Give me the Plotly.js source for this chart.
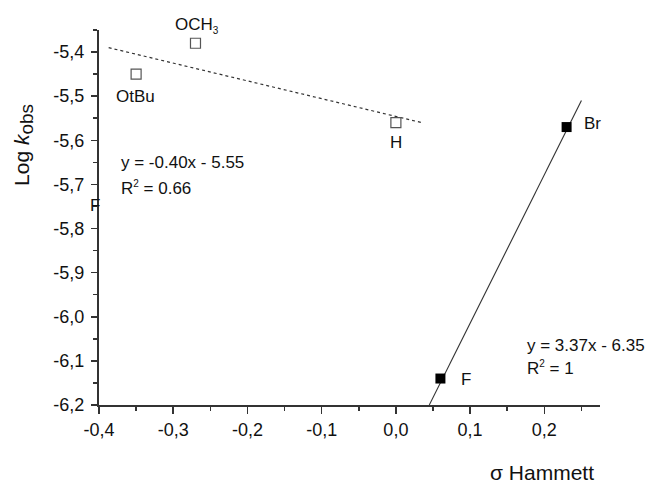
<!DOCTYPE html>
<html>
<head>
<meta charset="utf-8">
<script src="https://cdn.plot.ly/plotly-3.0.1.min.js"></script>
<style>html,body{margin:0;padding:0;background:#fff;}#chart{width:653px;height:487px;}</style>
</head>
<body>
<div id="chart"></div>
<script>
// Open squares: substituents with the dotted fit
const openLabels = ["OtBu", "OCH3", "H"];
const openX = [-0.35, -0.27, 0.0];
const openY = [-5.45, -5.38, -5.56];
// Filled squares: substituents with the solid fit
const filledLabels = ["F", "Br"];
const filledX = [0.06, 0.23];
const filledY = [-6.14, -5.57];
// Fit lines (end points)
const fit1X = [-0.387, 0.035];
const fit1Y = [-5.39, -5.56];
const fit2X = [0.045, 0.25];
const fit2Y = [-6.20, -5.51];
// Axis ticks
const xTickVals = [-0.4, -0.3, -0.2, -0.1, 0.0, 0.1, 0.2];
const xTickText = ["-0,4", "-0,3", "-0,2", "-0,1", "0,0", "0,1", "0,2"];
const yTickVals = [-6.2, -6.1, -6.0, -5.9, -5.8, -5.7, -5.6, -5.5, -5.4];
const yTickText = ["-6,2", "-6,1", "-6,0", "-5,9", "-5,8", "-5,7", "-5,6", "-5,5", "-5,4"];

const FONT = "Liberation Sans, Arial, sans-serif";

const traces = [
  {x: fit1X, y: fit1Y, mode: "lines", type: "scatter",
   line: {color: "#333", width: 1.2, dash: "dot"}, hoverinfo: "skip"},
  {x: fit2X, y: fit2Y, mode: "lines", type: "scatter",
   line: {color: "#333", width: 1.1}, hoverinfo: "skip"},
  {x: openX, y: openY, text: openLabels, mode: "markers", type: "scatter",
   marker: {symbol: "square-open", size: 10, color: "#555", line: {width: 1.2}}},
  {x: filledX, y: filledY, text: filledLabels, mode: "markers", type: "scatter",
   marker: {symbol: "square", size: 10, color: "#000"}}
];

const annFont = {family: FONT, size: 17, color: "#111"};
const annotations = [
  {xref: "paper", yref: "paper", x: 0.196, y: 1.013, text: "OCH<sub><span style='font-size:10px'>3</span></sub>", showarrow: false, xanchor: "center", yanchor: "middle", font: annFont},
  {x: -0.351, y: -5.501, text: "OtBu", showarrow: false, xanchor: "center", yanchor: "middle", font: annFont},
  {x: 0.0, y: -5.605, text: "H", showarrow: false, xanchor: "center", yanchor: "middle", font: annFont},
  {x: 0.251, y: -5.563, text: "Br", showarrow: false, xanchor: "left", yanchor: "middle", font: annFont},
  {x: 0.0845, y: -6.143, text: "F", showarrow: false, xanchor: "left", yanchor: "middle", font: annFont},
  {xref: "paper", yref: "paper", x: 0.0, y: 0.531, text: "F", showarrow: false, xanchor: "right", yanchor: "middle", xshift: 3, font: annFont},
  {x: -0.373, y: -5.651, text: "y = -0.40x - 5.55", showarrow: false, xanchor: "left", yanchor: "middle", font: annFont},
  {x: -0.373, y: -5.708, text: "R<sup><span style='font-size:10px'>2</span></sup> = 0.66", showarrow: false, xanchor: "left", yanchor: "middle", font: annFont},
  {x: 0.1744, y: -6.064, text: "y = 3.37x - 6.35", showarrow: false, xanchor: "left", yanchor: "middle", font: annFont},
  {x: 0.1744, y: -6.116, text: "R<sup><span style='font-size:10px'>2</span></sup> = 1", showarrow: false, xanchor: "left", yanchor: "middle", font: annFont},
  {xref: "paper", yref: "paper", x: 0.884, y: -0.179, text: "σ Hammett", showarrow: false, xanchor: "center", yanchor: "middle", font: {family: FONT, size: 21, color: "#111"}},
  {xref: "paper", yref: "paper", x: -0.152, y: 0.693, text: "Log <i>k</i><sub><span style='font-size:19px'>obs</span></sub>", textangle: -90, showarrow: false, xanchor: "center", yanchor: "middle", font: {family: FONT, size: 21, color: "#111"}}
];

const axisCommon = {
  showgrid: false, zeroline: false, showline: true, linecolor: "#333", linewidth: 2,
  ticks: "outside", ticklen: 7, tickwidth: 1.5, tickcolor: "#333",
  tickfont: {family: FONT, size: 18, color: "#111"},
  tickmode: "array", mirror: false
};

const layout = {
  width: 653, height: 487,
  margin: {l: 99, r: 53, t: 30, b: 82, pad: 0},
  paper_bgcolor: "#fff", plot_bgcolor: "#fff",
  showlegend: false,
  hovermode: false,
  xaxis: Object.assign({}, axisCommon, {
    range: [-0.4, 0.275], tickvals: xTickVals, ticktext: xTickText,
    minor: {tick0: -0.4, dtick: 0.05, ticks: "outside", ticklen: 4, tickwidth: 1.5, tickcolor: "#333"}
  }),
  yaxis: Object.assign({}, axisCommon, {
    range: [-6.2, -5.35], tickvals: yTickVals, ticktext: yTickText, ticklen: 6, ticklabelstandoff: 3,
    minor: {tick0: -6.2, dtick: 0.05, ticks: "outside", ticklen: 4, tickwidth: 1.5, tickcolor: "#333"}
  }),
  annotations: annotations
};

Plotly.newPlot("chart", traces, layout, {displayModeBar: false, staticPlot: true});
</script>
</body>
</html>
